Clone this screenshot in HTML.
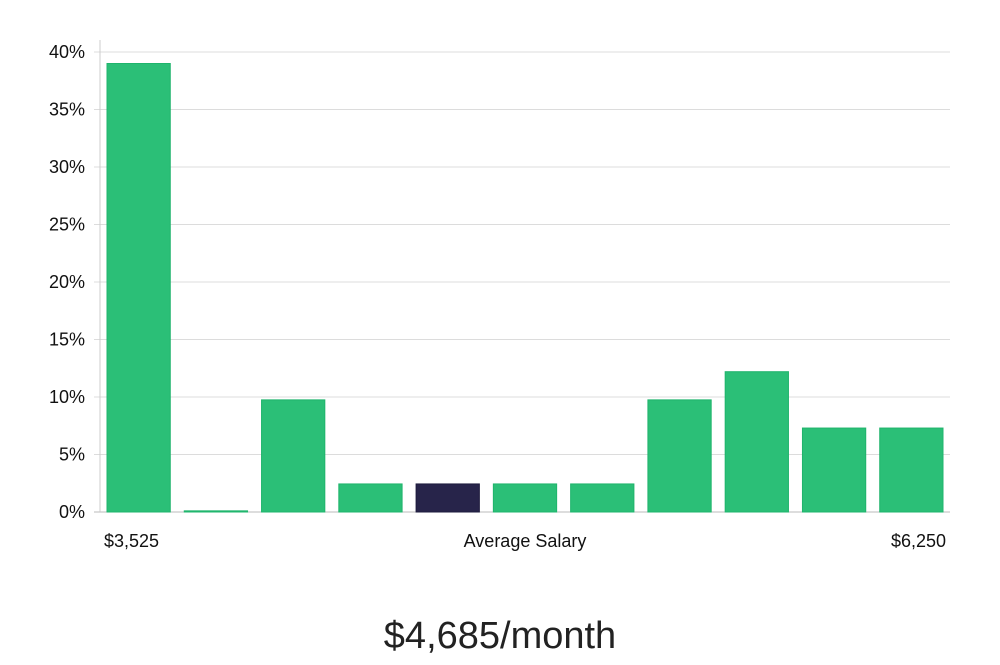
<!DOCTYPE html>
<html><head><meta charset="utf-8"><style>
body{margin:0;background:#fff;width:1000px;height:660px;overflow:hidden;font-family:"Liberation Sans","DejaVu Sans",sans-serif}
</style></head><body>
<svg id="chart" width="1000" height="660" xmlns="http://www.w3.org/2000/svg"></svg>
<script>
const categories=["b1","b2","b3","b4","b5","b6","b7","b8","b9","b10","b11"];
const values=[39.0,0.1,9.75,2.44,2.44,2.44,2.44,9.75,12.2,7.3,7.3];
const highlight=[false,false,false,false,true,false,false,false,false,false,false];
const yTicks=[0,5,10,15,20,25,30,35,40];
const yTickLabels=["0%","5%","10%","15%","20%","25%","30%","35%","40%"];
const minLabel="$3,525",maxLabel="$6,250",avgLabel="$4,685/month";
const svg=document.getElementById('chart');
const NS="http://www.w3.org/2000/svg";
const x0=100,x1=950,yBase=512,yTop=52,yMax=40;
const y=v=>yBase-(v/yMax)*(yBase-yTop);
const slot=(x1-x0)/categories.length;
const xb=i=>x0+slot*i+7;
function mk(t,a){const e=document.createElementNS(NS,t);for(const k in a)e.setAttribute(k,a[k]);svg.appendChild(e);return e;}
yTicks.forEach((t,i)=>{
  const g=mk('line',{x1:x0-6,x2:x1,y1:y(t),y2:y(t),stroke:t===0?'#bbb':'#dcdcdc','stroke-width':1});
  
  
  const l=mk('text',{x:85,y:y(t)+6,'text-anchor':'end','font-size':18,fill:'#111'});
  l.textContent=yTickLabels[i];
  
  
});
const ax=mk('line',{x1:x0,x2:x0,y1:40,y2:yBase,stroke:'#ccc','stroke-width':1});


values.forEach((v,i)=>{
  const h=Math.max(yBase-y(v),1);
  const r=mk('rect',{x:xb(i),y:yBase-h,width:slot-14,height:h,fill:highlight[i]?'#27244a':'#2bbf77',stroke:highlight[i]?'#1e1b3d':'#1fb46c','stroke-width':1});
  
  
});
function txt(s,x,yy,anchor,size,name){const t=mk('text',{x:x,y:yy,'text-anchor':anchor,'font-size':size,fill:'#111'});t.textContent=s;return t;}
txt(minLabel,104,547,'start',18,'min-salary-label');
txt("Average Salary",525,547,'middle',18,'x-axis-title');
txt(maxLabel,946,547,'end',18,'max-salary-label');
const big=txt(avgLabel,500,648,'middle',38,'average-salary-value');
big.setAttribute('fill','#222');
</script>
</body></html>
